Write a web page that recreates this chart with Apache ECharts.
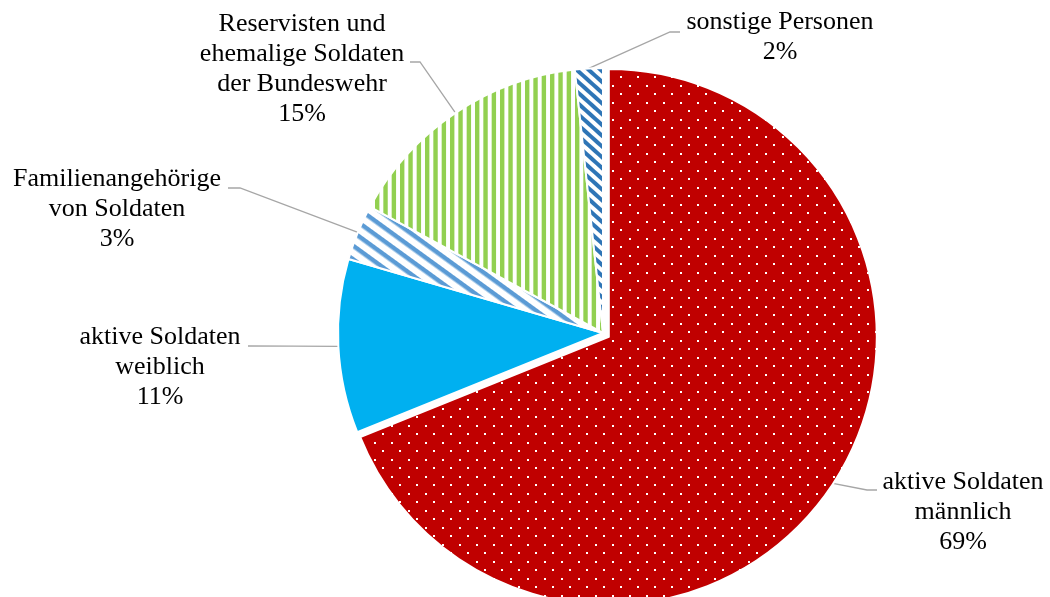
<!DOCTYPE html>
<html><head><meta charset="utf-8">
<script src="https://cdn.jsdelivr.net/npm/echarts@6/dist/echarts.min.js"></script>
<style>html,body{margin:0;padding:0;background:#fff}#c{width:1050px;height:597px}</style>
</head><body><div id="c"></div>
<script>
// ---- data ----
const categories = [
  'aktive Soldaten\nmännlich',
  'aktive Soldaten\nweiblich',
  'Familienangehörige\nvon Soldaten',
  'Reservisten und\nehemalige Soldaten\nder Bundeswehr',
  'sonstige Personen'
];
const shares = [68.9, 10.6, 3.4, 15.4, 1.7];
const explodedSlices = ['aktive Soldaten\nmännlich'];

// ---- styles (patterns) ----
function dotPattern(bg, fg) {
  const c = document.createElement('canvas'); c.width = 17; c.height = 17;
  const g = c.getContext('2d');
  g.fillStyle = bg; g.fillRect(0, 0, 17, 17);
  g.fillStyle = fg; g.fillRect(0, 0, 2, 2); g.fillRect(8, 8, 2, 2);
  return { image: c, repeat: 'repeat' };
}
function vStripePattern(color) {
  const c = document.createElement('canvas'); c.width = 25; c.height = 4;
  const g = c.getContext('2d');
  g.fillStyle = '#fff'; g.fillRect(0, 0, 25, 4);
  g.fillStyle = color;
  [0, 8.333, 16.667].forEach(function (x) { g.fillRect(x, 0, 4.4, 4); });
  return { image: c, repeat: 'repeat' };
}
function diagPattern(color, period, thick, angleDeg) {
  const c = document.createElement('canvas'); c.width = 8; c.height = period;
  const g = c.getContext('2d');
  g.fillStyle = '#fff'; g.fillRect(0, 0, 8, period);
  g.fillStyle = color; g.fillRect(0, 0, 8, thick);
  return { image: c, repeat: 'repeat', rotation: angleDeg * Math.PI / 180 };
}
const sliceFills = [
  dotPattern('#C00000', '#ffffff'),
  '#00B0F0',
  diagPattern('#5B9BD5', 11, 4.5, 36),
  vStripePattern('#92D050'),
  diagPattern('#2E75B6', 8, 4, 42)
];
// label placement (layout)
const labelAnchors = [
  { x: 963, y: 512, bend: [867, 490], end: [877, 490] },
  { x: 160, y: 367, bend: null,       end: [248, 346] },
  { x: 117, y: 209, bend: [240, 188], end: [228, 188] },
  { x: 302, y: 69,  bend: [420, 62],  end: [410, 62] },
  { x: 780, y: 37,  bend: [670, 32],  end: [680, 32] }
];
const CENTER = [603, 333], RADIUS = 265, EXPLODE = 7, EXPLODED_RADIUS = 268;

// explode offset for the highlighted slice, from its mid angle
const total = shares.reduce(function (a, b) { return a + b; }, 0);
let acc = 0, exOff = [0, 0];
categories.forEach(function (n, i) {
  if (explodedSlices.indexOf(n) >= 0) {
    const mid = (acc + shares[i] / 2) / total * 2 * Math.PI;
    exOff = [EXPLODE * Math.sin(mid), -EXPLODE * Math.cos(mid)];
  }
  acc += shares[i];
});
const transparent = { color: 'rgba(0,0,0,0)', borderWidth: 0 };

const labelFont = {
  fontFamily: '"Liberation Serif", "Times New Roman", serif',
  fontSize: 26, lineHeight: 30, color: '#000', align: 'center'
};

const chart = echarts.init(document.getElementById('c'), null, { renderer: 'canvas' });
chart.setOption({
  animation: false,
  backgroundColor: '#ffffff',
  series: [{
    type: 'pie', z: 2,
    center: CENTER, radius: RADIUS, startAngle: 90, clockwise: true,
    avoidLabelOverlap: false, percentPrecision: 0, silent: true,
    emphasis: { disabled: true },
    itemStyle: { borderColor: '#ffffff', borderWidth: 2 },
    label: Object.assign({ show: true, position: 'outside', formatter: '{b}\n{d}%' }, labelFont),
    labelLine: { show: true, lineStyle: { color: '#A6A6A6', width: 1.3 } },
    labelLayout: function (p) {
      const a = labelAnchors[p.dataIndex];
      const res = { x: a.x, y: a.y, align: 'center', verticalAlign: 'middle' };
      if (p.labelLinePoints && p.labelLinePoints[0]) {
        const s = p.labelLinePoints[0];
        const b = a.bend || [(s[0] + a.end[0]) / 2, (s[1] + a.end[1]) / 2];
        res.labelLinePoints = [s, b, a.end];
      }
      return res;
    },
    data: categories.map(function (name, i) {
      const ex = explodedSlices.indexOf(name) >= 0;
      return { name: name, value: shares[i], itemStyle: ex ? transparent : { color: sliceFills[i] } };
    })
  }, {
    type: 'pie', z: 3,
    center: [CENTER[0] + exOff[0], CENTER[1] + exOff[1]], radius: EXPLODED_RADIUS,
    startAngle: 90, clockwise: true, silent: true,
    emphasis: { disabled: true },
    itemStyle: { borderColor: '#ffffff', borderWidth: 2 },
    label: { show: false }, labelLine: { show: false },
    data: categories.map(function (name, i) {
      const ex = explodedSlices.indexOf(name) >= 0;
      return { name: name, value: shares[i], itemStyle: ex ? { color: sliceFills[i] } : transparent };
    })
  }]
});
</script>
</body></html>
